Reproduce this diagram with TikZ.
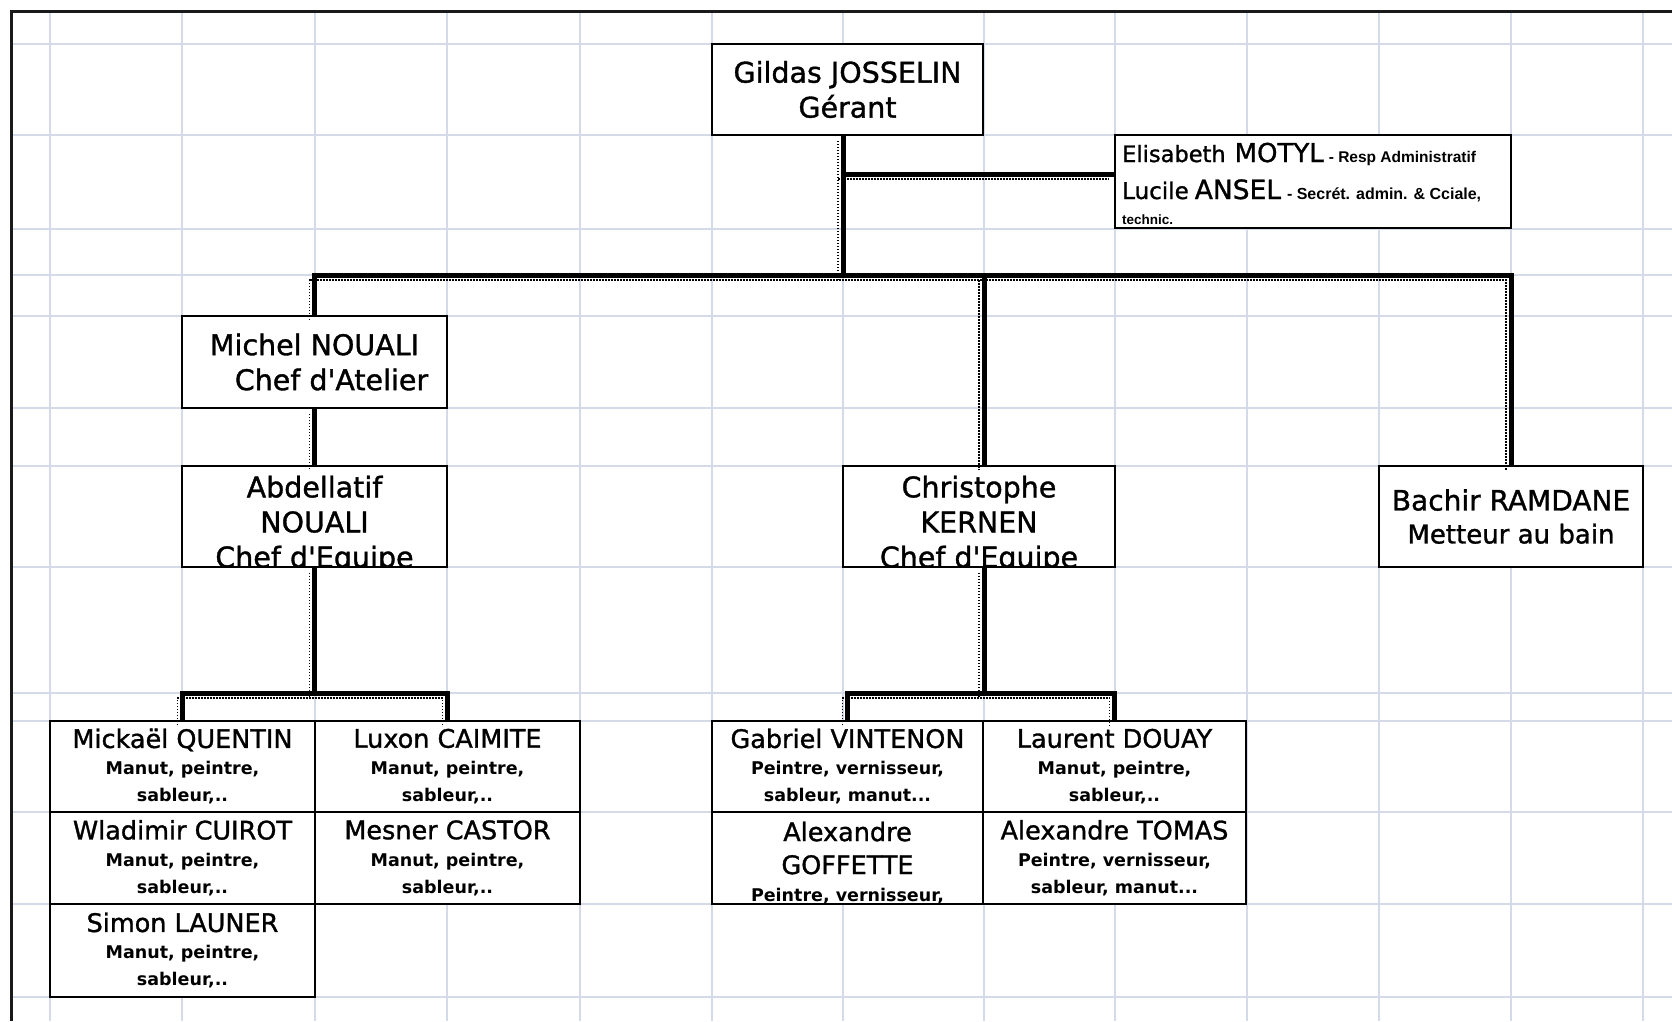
\documentclass[tikz,border=0pt]{standalone}
\usepackage{fontspec}
\setmainfont{DejaVu Sans}[UprightFeatures={FakeBold=1.2}]
\newfontfamily\narrowfont{Liberation Sans}

\definecolor{gridblue}{RGB}{212,218,232}

\newcommand{\bigname}{\fontsize{28.5}{35}\selectfont}
\newcommand{\cellname}{\mdseries\fontsize{25.5}{27}\selectfont}
\newcommand{\celljob}{\bfseries\fontsize{17.5}{27}\selectfont}
\newcommand{\apos}{\textquotesingle}

\tikzset{
  gridline/.style={gridblue, line width=2pt},
  frame/.style={black!90, line width=3pt},
  cell/.style={draw, line width=1.5pt, fill=white, inner sep=0pt, align=center},
  boss/.style={cell, font=\bigname},
  worker/.style={cell, font=\celljob},
  celltext/.style={inner sep=0pt, align=center},
  note/.style={anchor=base west, inner sep=0pt},
  link/.style={line width=5pt, postaction={draw, line width=1.5pt, dash pattern=on 1.5pt off 1.5pt, transform canvas={shift={(-5pt,-5pt)}}}}
}

\begin{document}
\begin{tikzpicture}[x=1pt,y=-1pt]
    \useasboundingbox (0,0) rectangle (1672,1021);

    % sheet grid
    \draw[gridline] (50,11) -- (50,1021);
    \draw[gridline] (182,11) -- (182,1021);
    \draw[gridline] (315,11) -- (315,1021);
    \draw[gridline] (447,11) -- (447,1021);
    \draw[gridline] (580,11) -- (580,1021);
    \draw[gridline] (712,11) -- (712,1021);
    \draw[gridline] (843,11) -- (843,1021);
    \draw[gridline] (984,11) -- (984,1021);
    \draw[gridline] (1115,11) -- (1115,1021);
    \draw[gridline] (1247,11) -- (1247,1021);
    \draw[gridline] (1379,11) -- (1379,1021);
    \draw[gridline] (1511,11) -- (1511,1021);
    \draw[gridline] (1643,11) -- (1643,1021);

    \draw[gridline] (11,44) -- (1672,44);
    \draw[gridline] (11,135) -- (1672,135);
    \draw[gridline] (11,229) -- (1672,229);
    \draw[gridline] (11,275) -- (1672,275);
    \draw[gridline] (11,316) -- (1672,316);
    \draw[gridline] (11,408) -- (1672,408);
    \draw[gridline] (11,466) -- (1672,466);
    \draw[gridline] (11,567) -- (1672,567);
    \draw[gridline] (11,693) -- (1672,693);
    \draw[gridline] (11,721) -- (1672,721);
    \draw[gridline] (11,812) -- (1672,812);
    \draw[gridline] (11,904) -- (1672,904);
    \draw[gridline] (11,997) -- (1672,997);

    \draw[frame] (11,1021) -- (11,11) -- (1672,11);

    % top
    \node[boss, minimum width=271pt, minimum height=91pt] (gerant) at (847.5,89.5) {Gildas JOSSELIN\\Gérant};

    \node[cell, minimum width=396pt, minimum height=93pt] (staff) at (1313,181.5) {};
    \node[note] (motyl) at (1122,162) {{\fontsize{22.5}{23}\selectfont Elisabeth}\hspace{9pt}{\fontsize{26}{27}\selectfont MOTYL}\hspace{5pt}{\narrowfont\bfseries\fontsize{15.5}{16}\selectfont - Resp Administratif}};
    \node[note] (ansel) at (1122,199) {{\fontsize{23}{23}\selectfont Lucile}\hspace{6pt}{\fontsize{26.5}{27}\selectfont ANSEL}\hspace{6pt}{\narrowfont\bfseries\fontsize{16}{17}\selectfont - Secrét. admin. \& Cciale,}};
    \node[note] (technic) at (1122,224) {\narrowfont\bfseries\fontsize{13.5}{14}\selectfont technic.};

    % chefs
    \node[boss, minimum width=265pt, minimum height=92pt] (atelier) at (314.5,362) {Michel NOUALI\\\hspace*{34pt}Chef d\apos Atelier};

    \node[cell, minimum width=265pt, minimum height=101pt] (abdel) at (314.5,516.5) {};
    \begin{scope}
        \clip ([yshift=1.5pt]abdel.south west) rectangle (abdel.north east);
        \node[celltext, font=\bigname] (abdeltext) at (314.5,524.5) {Abdellatif\\NOUALI\\Chef d\apos Equipe};
    \end{scope}

    \node[cell, minimum width=272pt, minimum height=101pt] (kernen) at (979,516.5) {};
    \begin{scope}
        \clip ([yshift=1.5pt]kernen.south west) rectangle (kernen.north east);
        \node[celltext, font=\bigname] (kernentext) at (979,524.5) {Christophe\\KERNEN\\Chef d\apos Equipe};
    \end{scope}

    \node[boss, font=\fontsize{28}{33}\selectfont, minimum width=264pt, minimum height=101pt] (bachir) at (1511,516.5) {Bachir RAMDANE\\{\fontsize{26}{33}\selectfont Metteur au bain}};

    % equipe NOUALI
    \node[worker, minimum width=265pt, minimum height=91pt] (quentin) at (182.5,766.5) {{\cellname Mickaël QUENTIN}\\Manut, peintre,\\sableur,..};
    \node[worker, minimum width=265pt, minimum height=91pt] (caimite) at (447.5,766.5) {{\cellname Luxon CAIMITE}\\Manut, peintre,\\sableur,..};
    \node[worker, minimum width=265pt, minimum height=92pt] (cuirot) at (182.5,858) {{\cellname Wladimir CUIROT}\\Manut, peintre,\\sableur,..};
    \node[worker, minimum width=265pt, minimum height=92pt] (castor) at (447.5,858) {{\cellname Mesner CASTOR}\\Manut, peintre,\\sableur,..};
    \node[worker, minimum width=265pt, minimum height=93pt] (launer) at (182.5,950.5) {{\cellname Simon LAUNER}\\Manut, peintre,\\sableur,..};

    % equipe KERNEN
    \node[worker, minimum width=271pt, minimum height=91pt] (vintenon) at (847.5,766.5) {{\cellname Gabriel VINTENON}\\Peintre, vernisseur,\\sableur, manut...};
    \node[worker, minimum width=263pt, minimum height=91pt] (douay) at (1114.5,766.5) {{\cellname Laurent DOUAY}\\Manut, peintre,\\sableur,..};
    \node[worker, minimum width=271pt, minimum height=92pt] (goffette) at (847.5,858) {};
    \begin{scope}
        \clip ([yshift=1.5pt]goffette.south west) rectangle (goffette.north east);
        \node[celltext, font=\celljob] (goffettetext) at (847.5,862.6) {{\cellname Alexandre}\\[6pt]{\cellname GOFFETTE}\\Peintre, vernisseur,};
    \end{scope}
    \node[worker, minimum width=263pt, minimum height=92pt] (tomas) at (1114.5,858) {{\cellname Alexandre TOMAS}\\Peintre, vernisseur,\\sableur, manut...};

    % links
    \coordinate (trunk) at (843,275);
    \coordinate (staffjoin) at (843,174);
    \coordinate (kx) at (984,275);
    \coordinate (lowbus) at (0,693);

    \draw[link] (gerant.south -| trunk) -- (trunk);
    \draw[link] (staffjoin) -- (staffjoin -| staff.west);
    \draw[link] (atelier.north) -- (atelier.north |- trunk) -- (bachir.north |- trunk) -- (bachir.north);
    \draw[link] (kx) -- (kx |- kernen.north);
    \draw[link] (atelier.south) -- (abdel.north);

    \draw[link] (abdel.south) -- (abdel.south |- lowbus);
    \draw[link] (quentin.north) -- (quentin.north |- lowbus) -- (caimite.north |- lowbus) -- (caimite.north);
    \draw[link] (kx |- kernen.south) -- (kx |- lowbus);
    \draw[link] (vintenon.north) -- (vintenon.north |- lowbus) -- (douay.north |- lowbus) -- (douay.north);
\end{tikzpicture}
\end{document}
